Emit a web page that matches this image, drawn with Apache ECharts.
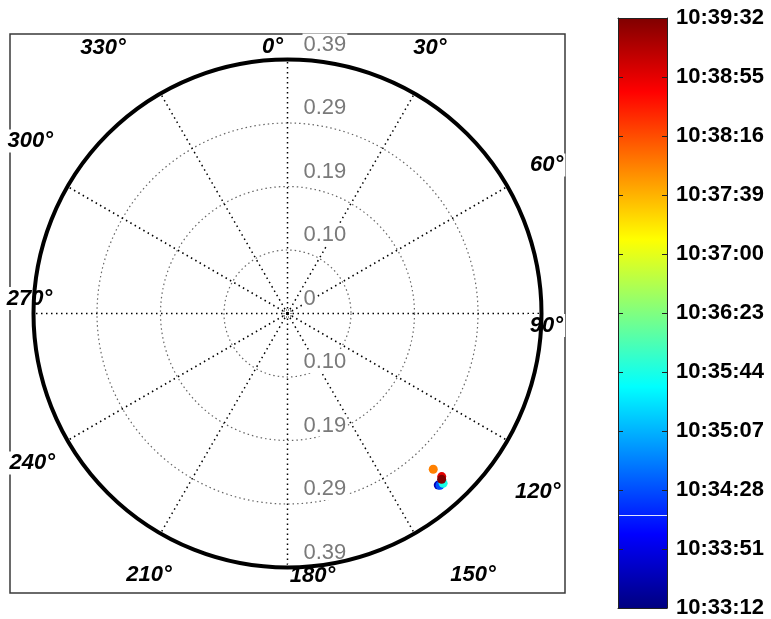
<!DOCTYPE html>
<html>
<head>
<meta charset="utf-8">
<script src="https://cdn.jsdelivr.net/npm/echarts@6/dist/echarts.min.js"></script>
<style>
  html, body { margin: 0; padding: 0; background: #fff; }
  #chart { width: 771px; height: 619px; }
</style>
</head>
<body>
<div id="chart"></div>
<script>
// ---- data -------------------------------------------------------------
// seconds elapsed since 10:33:12 for each fix
const TIME_SEC = [20, 76, 152, 285, 343, 380];
// radial distance of each fix
const RANGE    = [0.348, 0.350, 0.351, 0.325, 0.342, 0.345];
// bearing of each fix, degrees clockwise from north
const BEARING  = [138.7, 138.4, 137.5, 136.9, 136.6, 137.1];

// colour bar tick labels, bottom to top
const TIME_TICKS = ['10:33:12', '10:33:51', '10:34:28', '10:35:07', '10:35:44',
                    '10:36:23', '10:37:00', '10:37:39', '10:38:16', '10:38:55', '10:39:32'];
const TIME_SPAN = 380;      // seconds covered by the colour bar
const TIME_STEP = 38;

// range rings
const RANGE_MAX   = 0.387;
const RING_STEP   = RANGE_MAX / 4;
const RING_LABELS = ['0', '0.10', '0.19', '0.29', '0.39'];

// bearing spokes
const SPOKES = [0, 30, 60, 90, 120, 150, 180, 210, 240, 270, 300, 330];

// jet colour map, evenly spaced stops
const JET = ['#000080', '#0000ff', '#0080ff', '#00ffff', '#80ff80',
             '#ffff00', '#ff8000', '#ff0000', '#800000'];

// ---- layout -----------------------------------------------------------
const CX = 287.5, CY = 313.5;          // polar centre
const R_PX = 254;                      // pixel radius of outer ring
const FRAME = { x0: 10, y0: 34, x1: 565, y1: 593 };
const PX_PER_UNIT = R_PX / RANGE_MAX;
const LABEL_R_PX = 297;
// pixel nudges of the bearing labels from their spoke anchor
const SPOKE_LABEL_NUDGE = {
  0: [-15, 30], 30: [-6, -8], 60: [2, 0], 90: [-38, 12],
  120: [-7, 30], 150: [37, 4], 180: [25, -35], 210: [10, 4],
  240: [2, 1], 270: [39, -15], 300: [0, -24], 330: [-36, -8]
};
const FONT = '"Liberation Sans", Arial, Helvetica, sans-serif';

// spoke length: run each spoke out to the surrounding square frame
function spokeEnd(deg) {
  const a = deg * Math.PI / 180;
  const sx = Math.abs(Math.sin(a)), sy = Math.abs(Math.cos(a));
  const hw = Math.min(CX - FRAME.x0, FRAME.x1 - CX);
  const hh = Math.min(CY - FRAME.y0, FRAME.y1 - CY);
  const tx = sx > 1e-9 ? hw / sx : Infinity;
  const ty = sy > 1e-9 ? hh / sy : Infinity;
  return Math.min(tx, ty) / PX_PER_UNIT;
}

const spokeSeries = SPOKES.map(deg => ({
  type: 'line',
  coordinateSystem: 'polar',
  data: [[0, deg], [spokeEnd(deg), deg]],
  symbol: 'none',
  clip: false,
  silent: true,
  z: 1,
  lineStyle: { color: '#000', width: 1.5, type: [1.5, 3.5] }
}));

const spokeLabelSeries = {
  type: 'scatter',
  coordinateSystem: 'polar',
  symbolSize: 0,
  clip: false,
  silent: true,
  z: 4,
  itemStyle: { opacity: 1 },
  data: SPOKES.map(deg => ({
    value: [LABEL_R_PX / PX_PER_UNIT, deg],
    label: {
      show: true,
      position: 'inside',
      formatter: deg + '°',
      offset: SPOKE_LABEL_NUDGE[deg]
    }
  })),
  label: {
    color: '#000', fontFamily: FONT, fontSize: 22,
    fontWeight: 'bold', fontStyle: 'italic',
    textBorderWidth: 0,
    align: 'center', verticalAlign: 'middle',
    backgroundColor: '#fff', padding: [1, 2, 0, 2]
  }
};

// ring value labels, placed just above each ring along the north/south spoke
const ringLabelData = [];
RING_LABELS.forEach((txt, i) => {
  ringLabelData.push({ value: [i * RING_STEP, 0], name: txt });
  if (i > 0) ringLabelData.push({ value: [i * RING_STEP, 180], name: txt });
});
const ringLabelSeries = {
  type: 'scatter',
  coordinateSystem: 'polar',
  symbolSize: 0,
  clip: false,
  silent: true,
  z: 4,
  itemStyle: { opacity: 1 },
  data: ringLabelData,
  label: {
    show: true,
    position: 'inside',
    formatter: p => p.name,
    offset: [15, -15],
    align: 'left', verticalAlign: 'middle',
    color: '#7a7a7a', fontFamily: FONT, fontSize: 22,
    textBorderWidth: 0,
    backgroundColor: '#fff', padding: [0, 1]
  }
};

// small marker at the pole
const poleSeries = {
  type: 'scatter',
  coordinateSystem: 'polar',
  data: [[0, 0]],
  symbol: 'rect',
  symbolSize: 7,
  silent: true,
  z: 3,
  itemStyle: { color: 'rgba(0,0,0,0)', borderColor: '#333', borderWidth: 1, borderType: 'dotted', opacity: 1 }
};

const fixSeries = {
  type: 'scatter',
  coordinateSystem: 'polar',
  data: TIME_SEC.map((t, i) => [RANGE[i], BEARING[i], t]),
  symbol: 'circle',
  symbolSize: 9,
  z: 12,
  itemStyle: { opacity: 1 }
};

// colour bar drawn as one gradient bar in its own grid
const colorBarSeries = {
  type: 'bar',
  xAxisIndex: 0,
  yAxisIndex: 0,
  data: [TIME_SPAN],
  barWidth: '100%',
  silent: true,
  z: 2,
  itemStyle: {
    color: new echarts.graphic.LinearGradient(0, 1, 0, 0,
      JET.map((c, i) => ({ offset: i / (JET.length - 1), color: c })))
  },
  markLine: {
    silent: true,
    symbol: 'none',
    label: { show: false },
    lineStyle: { color: '#dfe4ff', width: 1, type: 'solid' },
    data: [{ yAxis: 60 }]
  }
};

const option = {
  backgroundColor: '#fff',
  animation: false,
  polar: { center: [CX, CY], radius: R_PX },
  angleAxis: {
    type: 'value',
    min: 0, max: 360,
    startAngle: 90,
    clockwise: true,
    z: 10,
    axisLine: { show: true, lineStyle: { color: '#000', width: 4 } },
    axisTick: { show: false },
    axisLabel: { show: false },
    splitLine: { show: false }
  },
  radiusAxis: {
    type: 'value',
    min: 0, max: RANGE_MAX,
    interval: RING_STEP,
    axisLine: { show: false },
    axisTick: { show: false },
    axisLabel: { show: false },
    splitLine: { show: true, lineStyle: { color: '#666', width: 1.2, type: [1.5, 3] } }
  },
  grid: { left: 618, top: 18, width: 49, height: 592 },
  xAxis: [
    { type: 'category', data: [''], position: 'bottom', z: 6,
      axisLine: { show: true, onZero: false, lineStyle: { color: '#222', width: 1 } },
      axisTick: { show: false }, axisLabel: { show: false } },
    { type: 'category', data: [''], position: 'top', z: 6,
      axisLine: { show: true, onZero: false, lineStyle: { color: '#222', width: 1 } },
      axisTick: { show: false }, axisLabel: { show: false } }
  ],
  yAxis: [
    { type: 'value', min: 0, max: TIME_SPAN, interval: TIME_STEP, position: 'right', z: 6,
      axisLine: { show: true, lineStyle: { color: '#222', width: 1 } },
      axisTick: { show: true, inside: true, length: 5, lineStyle: { color: '#222' } },
      splitLine: { show: false },
      axisLabel: {
        margin: 9,
        color: '#000', fontFamily: FONT, fontSize: 22, fontWeight: 'bold',
        formatter: v => TIME_TICKS[Math.round(v / TIME_STEP)]
      } },
    { type: 'value', min: 0, max: TIME_SPAN, interval: TIME_STEP, position: 'left', z: 6,
      axisLine: { show: true, lineStyle: { color: '#222', width: 1 } },
      axisTick: { show: true, inside: true, length: 5, lineStyle: { color: '#222' } },
      splitLine: { show: false },
      axisLabel: { show: false } }
  ],
  visualMap: {
    show: false,
    type: 'continuous',
    min: 0, max: TIME_SPAN,
    dimension: 2,
    seriesIndex: SPOKES.length + 3,
    inRange: { color: JET }
  },
  graphic: [{
    type: 'rect',
    silent: true,
    z: 0,
    shape: { x: FRAME.x0, y: FRAME.y0, width: FRAME.x1 - FRAME.x0, height: FRAME.y1 - FRAME.y0 },
    style: { fill: 'none', stroke: '#3a3a3a', lineWidth: 1.5 }
  }],
  series: [...spokeSeries, spokeLabelSeries, ringLabelSeries, poleSeries, fixSeries, colorBarSeries]
};

const chart = echarts.init(document.getElementById('chart'), null, { renderer: 'canvas' });
chart.setOption(option);
</script>
</body>
</html>
